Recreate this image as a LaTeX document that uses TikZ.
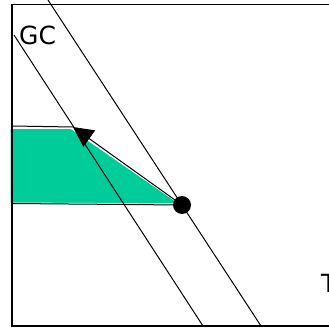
\documentclass[tikz,border=0pt]{standalone}
\usepackage{fontspec}
\setmainfont{DejaVu Sans}
\usetikzlibrary{arrows.meta}
\definecolor{pgreen}{HTML}{00CC99}
\begin{document}
\begin{tikzpicture}[x=1pt,y=1pt,
  frame/.style={line width=1.3pt,black},
  thin line/.style={line width=1pt,black},
  lbl/.style={inner sep=0pt,font=\fontsize{25}{30}\selectfont},
  bigdot/.style={circle,fill=black,minimum size=18pt,inner sep=0pt}]
\useasboundingbox (0,0) rectangle (329,327);
% green region
\fill[pgreen,draw=white,line width=1pt] (10,198.5) -- (71,198.5) -- (180,123) -- (10,124) -- cycle;
% frame
\draw[frame] (329,322.5) -- (12,322.5) -- (12,1) -- (329,1);
% diagonal lines
\coordinate (a1) at (48,327);
\coordinate (a2) at (261,1);
\coordinate (g1) at (14,292);
\coordinate (g2) at (203,1);
\draw[thin line] (a1) -- (a2);
\draw[thin line] (g1) -- (g2);
% dot and arrow
\node[bigdot] (dot) at (182,122) {};
\coordinate (tip) at (73,200);
\coordinate (tl) at (12,201);
\coordinate (bl) at (12,123.5);
\draw[thin line] (tl) -- (tip);
\draw[thin line] (bl) -- (dot.center);
\draw[thin line,-{Triangle[length=20pt,width=20pt]}] (dot.center) -- (tip);
% labels
\node[lbl,anchor=base west] (gc) at (19,282) {GC};
\node[lbl,anchor=base west] (t) at (321,35) {T};
\end{tikzpicture}
\end{document}
